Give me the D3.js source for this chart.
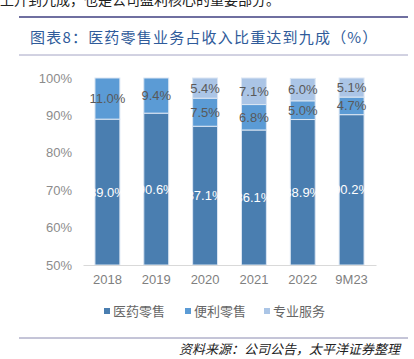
<!DOCTYPE html>
<html>
<head>
<meta charset="utf-8">
<script src="https://cdn.jsdelivr.net/npm/d3@7"></script>
<style>
  body { margin: 0; background: #fff; }
  svg { display: block; font-family: "Noto Sans CJK SC", "Noto Sans", sans-serif; }
</style>
</head>
<body>
<div id="chart"></div>
<script>
// data
const years = ["2018", "2019", "2020", "2021", "2022", "9M23"];
const pharmacy = [89.0, 90.6, 87.1, 86.1, 88.9, 90.2];
const convenience = [11.0, 9.4, 7.5, 6.8, 5.0, 4.7];
const professional = [0, 0, 5.4, 7.1, 6.0, 5.1];
const seriesNames = ["医药零售", "便利零售", "专业服务"];
const yTicks = [50, 60, 70, 80, 90, 100];

const colors = ["#4a7eb0", "#5b9bd5", "#abc5e6"];

const width = 414, height = 359;
const svg = d3.select("#chart").append("svg")
    .attr("width", width)
    .attr("height", height);

// cut off paragraph text at the very top
svg.append("text")
    .attr("x", 0).attr("y", 5)
    .attr("font-size", "14px")
    .attr("fill", "#222")
    .text("上升到九成，也是公司盈利核心的重要部分。");

// title block
svg.append("line").attr("x1", 19).attr("x2", 408).attr("y1", 17).attr("y2", 17)
    .attr("stroke", "#6f6fa0").attr("stroke-width", 2);
svg.append("text")
    .attr("x", 30).attr("y", 43)
    .attr("font-size", "15px")
    .attr("fill", "#2f5b9a")
    .attr("letter-spacing", "1.2px")
    .text("图表8：医药零售业务占收入比重达到九成（%）");
svg.append("line").attr("x1", 19).attr("x2", 408).attr("y1", 55).attr("y2", 55)
    .attr("stroke", "#a4a4c4").attr("stroke-width", 1);

// scales
const x = d3.scaleBand().domain(years).range([83, 376]).paddingInner(0.49).paddingOuter(0.245);
const y = d3.scaleLinear().domain([50, 100]).range([265, 78]);

// y axis labels
const yAxis = d3.axisLeft(y).tickValues(yTicks).tickSize(0).tickPadding(0)
    .tickFormat(d => d + "%");
const gy = svg.append("g").attr("transform", "translate(72,0)").call(yAxis);
gy.select(".domain").remove();
gy.selectAll("text").attr("font-size", "13px").attr("fill", "#8c8c8c")
    .attr("font-family", "'Liberation Sans', Arial, sans-serif");

// stacked bars
const rows = years.map((yr, i) => ({ year: yr, v: [pharmacy[i], convenience[i], professional[i]] }));
const g = svg.append("g");
rows.forEach(r => {
    let base = 0;
    r.v.forEach((val, k) => {
        if (val <= 0) return;
        const y0 = Math.max(base, 50), y1 = base + val;
        g.append("rect")
            .attr("x", x(r.year))
            .attr("y", y(y1))
            .attr("width", x.bandwidth())
            .attr("height", y(y0) - y(y1))
            .attr("fill", colors[k])
            .attr("stroke", "#dbe6f3")
            .attr("stroke-width", 1);
        base = y1;
    });
});

// labels
rows.forEach(r => {
    let base = 0;
    r.v.forEach((val, k) => {
        if (val <= 0) return;
        const y0 = Math.max(base, 50), y1 = base + val;
        g.append("text")
            .attr("x", x(r.year) + x.bandwidth() / 2)
            .attr("y", (y(y0) + y(y1)) / 2)
            .attr("dy", "0.35em")
            .attr("text-anchor", "middle")
            .attr("font-size", "13px")
            .attr("font-family", "'Liberation Sans', Arial, sans-serif")
            .attr("fill", k === 0 ? "#ffffff" : "#595959")
            .text(val.toFixed(1) + "%");
        base = y1;
    });
});

// x axis
const xAxis = d3.axisBottom(x).tickSize(0).tickPadding(10);
const gx = svg.append("g").attr("transform", "translate(0,265)").call(xAxis);
gx.select(".domain").attr("stroke", "#d9d9d9");
gx.selectAll("text").attr("font-size", "13px").attr("fill", "#7f7f7f")
    .attr("font-family", "'Liberation Sans', Arial, sans-serif");

// legend
const legendX = [104, 185, 264];
seriesNames.forEach((name, i) => {
    svg.append("rect")
        .attr("x", legendX[i]).attr("y", 308)
        .attr("width", 6).attr("height", 6)
        .attr("fill", colors[i]);
    svg.append("text")
        .attr("x", legendX[i] + 9).attr("y", 316)
        .attr("font-size", "13px")
        .attr("fill", "#666")
        .text(name);
});

// source
svg.append("line").attr("x1", 19).attr("x2", 408).attr("y1", 338).attr("y2", 338)
    .attr("stroke", "#8a8ab0").attr("stroke-width", 1);
svg.append("text")
    .attr("x", 400).attr("y", 354)
    .attr("text-anchor", "end")
    .attr("font-size", "13px")
    .attr("font-style", "italic")
    .attr("fill", "#222")
    .text("资料来源：公司公告，太平洋证券整理");
</script>
</body>
</html>
